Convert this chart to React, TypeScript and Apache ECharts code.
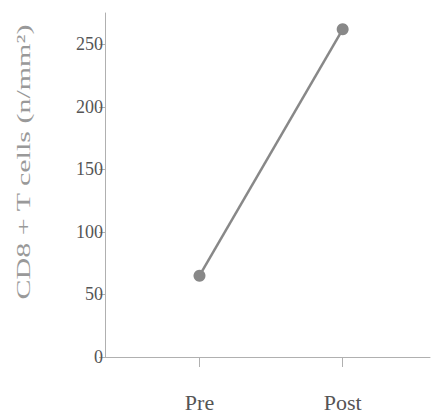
import React, { useEffect, useRef } from "react";
import * as echarts from "echarts";

const categories = ["Pre", "Post"];
const categoryPositions = [1, 2];
const values = [65, 262];
const yTicks = [0, 50, 100, 150, 200, 250];
const yTitle = "CD8 + T cells (n/mm²)";

export default function App() {
  const ref = useRef<HTMLDivElement>(null);
  useEffect(() => {
    if (!ref.current) return;
    const chart = echarts.init(ref.current, undefined, { renderer: "svg" });
    const font = "'Liberation Serif', 'DejaVu Serif', serif";
    chart.setOption({
      animation: false,
      grid: { left: 105, right: 2, top: 13, bottom: 56, containLabel: false },
      xAxis: {
        type: "value",
        min: 0.34,
        max: 2.61,
        axisLine: { show: true, lineStyle: { color: "#b0b0b0", width: 1 } },
        axisTick: { show: true, customValues: categoryPositions, length: 10, inside: false, lineStyle: { color: "#b0b0b0" } },
        axisLabel: {
          customValues: categoryPositions,
          formatter: (v: number) => categories[categoryPositions.indexOf(Math.round(v))] ?? "",
          color: "#555",
          fontFamily: font,
          fontSize: 22,
          margin: 34,
        },
        splitLine: { show: false },
      },
      yAxis: {
        type: "value",
        min: 0,
        max: 275,
        axisLine: { show: true, lineStyle: { color: "#b0b0b0", width: 1 } },
        axisTick: { show: true, customValues: yTicks, length: 6, lineStyle: { color: "#b0b0b0" } },
        axisLabel: {
          customValues: yTicks,
          color: "#555",
          fontFamily: font,
          fontSize: 18,
          margin: 2,
        },
        splitLine: { show: false },
      },
      graphic: [
        {
          type: "text",
          x: 24,
          y: 162,
          rotation: Math.PI / 2,
          scaleX: 1.58,
          style: {
            text: yTitle,
            fill: "#999",
            font: `19px ${font}`,
            align: "center",
            verticalAlign: "middle",
          },
        },
      ],
      series: [
        {
          type: "line",
          data: categoryPositions.map((x, i) => [x, values[i]]),
          symbol: "circle",
          symbolSize: 12,
          itemStyle: { color: "#888" },
          lineStyle: { color: "#888", width: 2.5 },
        },
      ],
    });
    return () => chart.dispose();
  }, []);
  return <div ref={ref} style={{ width: 432, height: 413, position: "absolute", left: 0, top: 0 }} />;
}
